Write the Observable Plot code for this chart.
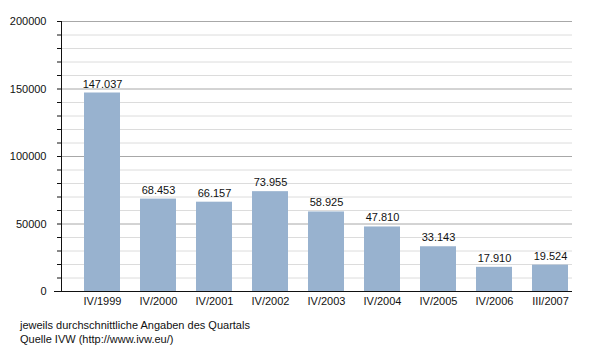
<!DOCTYPE html>
<html><head><meta charset="utf-8">
<script src="https://cdn.jsdelivr.net/npm/d3@7"></script>
<script src="https://cdn.jsdelivr.net/npm/@observablehq/plot@0.6"></script>
<style>
body{margin:0;background:#fff;font-family:"Liberation Sans",Arial,sans-serif;}
#cap{position:absolute;left:20px;top:318px;font-size:11px;line-height:14px;color:#111;}
</style></head>
<body>
<div id="chart"></div>
<div id="cap">jeweils durchschnittliche Angaben des Quartals<br>Quelle IVW (http://www.ivw.eu/)</div>
<script>
const quarters = ["IV/1999","IV/2000","IV/2001","IV/2002","IV/2003","IV/2004","IV/2005","IV/2006","III/2007"];
const values = [147037, 68453, 66157, 73955, 58925, 47810, 33143, 17910, 19524];
const valueLabels = ["147.037","68.453","66.157","73.955","58.925","47.810","33.143","17.910","19.524"];
const majorTicks = [0, 50000, 100000, 150000, 200000];
const minorTicks = d3.range(0, 200001, 10000);

const data = quarters.map((q, i) => ({q, v: values[i], label: valueLabels[i]}));

const chart = Plot.plot({
  width: 600,
  height: 310,
  marginTop: 21,
  marginBottom: 19,
  marginLeft: 61,
  marginRight: 28,
  style: {fontFamily: '"Liberation Sans", Arial, sans-serif', fontSize: "11px", color: "#111", background: "#fff"},
  x: {domain: quarters, range: [60.4, 590.4], padding: 0.364, label: null},
  y: {domain: [0, 200000], label: null},
  marks: [
    Plot.ruleY(minorTicks.filter(d => d % 50000 !== 0), {stroke: "#dcdcdc", strokeWidth: 1}),
    Plot.ruleY(majorTicks.filter(d => d > 0), {stroke: "#a8a8a8", strokeWidth: 1}),
    Plot.barY(data, {x: "q", y: "v", fill: "#98b2cf"}),
    Plot.text(data, {x: "q", y: "v", text: "label", dy: -9, fill: "#111", fontSize: 11}),
    Plot.axisY({ticks: minorTicks, tickSize: 4, text: null, label: null, stroke: "#111"}),
    Plot.axisY({ticks: majorTicks, tickSize: 0, tickPadding: 15, tickFormat: d => String(d), label: null, fill: "#111"}),
    Plot.axisX({tickSize: 0, tickPadding: 6, label: null, fill: "#111"}),
    Plot.frame({anchor: "left", stroke: "#111"}),
    Plot.ruleY([0], {stroke: "#111", strokeWidth: 1.2, insetLeft: -7})
  ]
});
document.getElementById("chart").appendChild(chart);
</script>
</body></html>
